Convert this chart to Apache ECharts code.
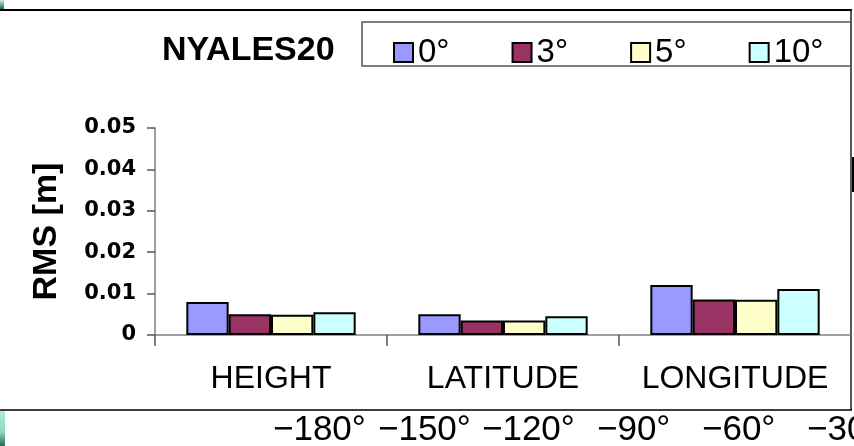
<!DOCTYPE html>
<html>
<head>
<meta charset="utf-8">
<script src="https://cdn.jsdelivr.net/npm/echarts@6/dist/echarts.min.js"></script>
<style>html,body{margin:0;padding:0;background:#fff}#c{width:854px;height:446px}</style>
</head>
<body>
<div id="c"></div>
<script>
const categories = ['HEIGHT', 'LATITUDE', 'LONGITUDE'];
const seriesNames = ['0°', '3°', '5°', '10°'];
const values0 = [0.0080, 0.0050, 0.0121];
const values3 = [0.0050, 0.0035, 0.0086];
const values5 = [0.0049, 0.0035, 0.0085];
const values10 = [0.0055, 0.0045, 0.0111];
const colors = ['#9999FF', '#993366', '#FFFFCC', '#CCFFFF'];
const yTicks = [0, 0.01, 0.02, 0.03, 0.04, 0.05];
const mapLabels = ['−180°', '−150°', '−120°', '−90°', '−60°', '−30°'];
const mapLabelX = [273, 378, 482, 597, 702, 807];

const allValues = [values0, values3, values5, values10];
const chart = echarts.init(document.getElementById('c'));
const series = allValues.map((v, i) => ({
  name: seriesNames[i],
  type: 'bar',
  data: v,
  barGap: '0%',
  barCategoryGap: '27%',
  itemStyle: { color: colors[i], borderColor: '#000', borderWidth: 2 },
  emphasis: { disabled: true }
}));

const graphics = [
  { type: 'rect', shape: { x: 362, y: 22, width: 489, height: 44 }, style: { fill: 'none', stroke: '#555', lineWidth: 1.5 }, z: 1 },
  { type: 'line', shape: { x1: 0, y1: 10, x2: 852, y2: 10 }, style: { stroke: '#000', lineWidth: 2 } },
  { type: 'line', shape: { x1: 851, y1: 10, x2: 851, y2: 410 }, style: { stroke: '#222', lineWidth: 1.5 } },
  { type: 'line', shape: { x1: 0, y1: 410, x2: 852, y2: 410 }, style: { stroke: '#000', lineWidth: 1.5 } },
  { type: 'rect', shape: { x: 852, y: 157, width: 2, height: 35 }, style: { fill: '#000' } },
  { type: 'rect', shape: { x: 0, y: 0, width: 4, height: 9 }, style: { fill: new echarts.graphic.LinearGradient(0, 0, 0, 1, [{offset: 0, color: '#cfeee0'}, {offset: 1, color: '#1f6a4a'}]) } },
  { type: 'rect', shape: { x: 0, y: 411, width: 5, height: 35 }, style: { fill: new echarts.graphic.LinearGradient(0, 0, 0, 1, [{offset: 0, color: '#a8f0d4'}, {offset: 0.6, color: '#8fd8b8'}, {offset: 1, color: '#2a6a50'}]) } }
];
mapLabels.forEach((t, i) => {
  graphics.push({ type: 'text', x: mapLabelX[i], y: 430, style: { text: t, fill: '#000', font: '35px "Liberation Sans", Arial, sans-serif', textAlign: 'left', textVerticalAlign: 'middle' } });
});

chart.setOption({
  animation: false,
  backgroundColor: '#fff',
  title: {
    text: 'NYALES20', left: 162, top: 34, padding: 0,
    textStyle: { fontFamily: '"Liberation Sans", Arial, sans-serif', fontWeight: 'bold', fontSize: 34, color: '#000' }
  },
  legend: {
    left: 393, top: 36, padding: 0,
    itemWidth: 19, itemHeight: 19, itemGap: 62,
    icon: 'rect',
    data: seriesNames,
    textStyle: { fontFamily: '"Liberation Sans", Arial, sans-serif', fontSize: 33, color: '#000', padding: [0, 0, 0, 0] },
    itemStyle: { borderColor: '#000', borderWidth: 2 },
    selectedMode: false
  },
  grid: { left: 155, right: 3, top: 128, bottom: 111, containLabel: false },
  xAxis: {
    type: 'category',
    data: categories,
    axisLine: { lineStyle: { color: '#808080', width: 1.5 } },
    axisTick: { show: true, length: 11, lineStyle: { color: '#555', width: 1.5 } },
    axisLabel: { interval: 0, margin: 28, fontFamily: '"Liberation Sans", Arial, sans-serif', fontSize: 32, color: '#000' }
  },
  yAxis: {
    type: 'value',
    min: 0, max: 0.05, interval: 0.01,
    name: 'RMS [m]',
    nameLocation: 'middle',
    nameGap: 91,
    nameRotate: 90,
    nameTextStyle: { fontFamily: '"Liberation Sans", Arial, sans-serif', fontWeight: 'bold', fontSize: 34, color: '#000' },
    axisLine: { show: true, lineStyle: { color: '#808080', width: 1.5 } },
    axisTick: { show: true, length: 8, inside: false, lineStyle: { color: '#555', width: 1.5 } },
    splitLine: { show: false },
    axisLabel: {
      margin: 19,
      fontFamily: '"DejaVu Sans", sans-serif', fontWeight: 'bold', fontSize: 21, color: '#000',
      formatter: v => { const t = yTicks.find(x => Math.abs(x - v) < 1e-9); return t === 0 ? '0' : String(+t.toFixed(2)); }
    }
  },
  series: series,
  graphic: graphics
});
</script>
</body>
</html>
